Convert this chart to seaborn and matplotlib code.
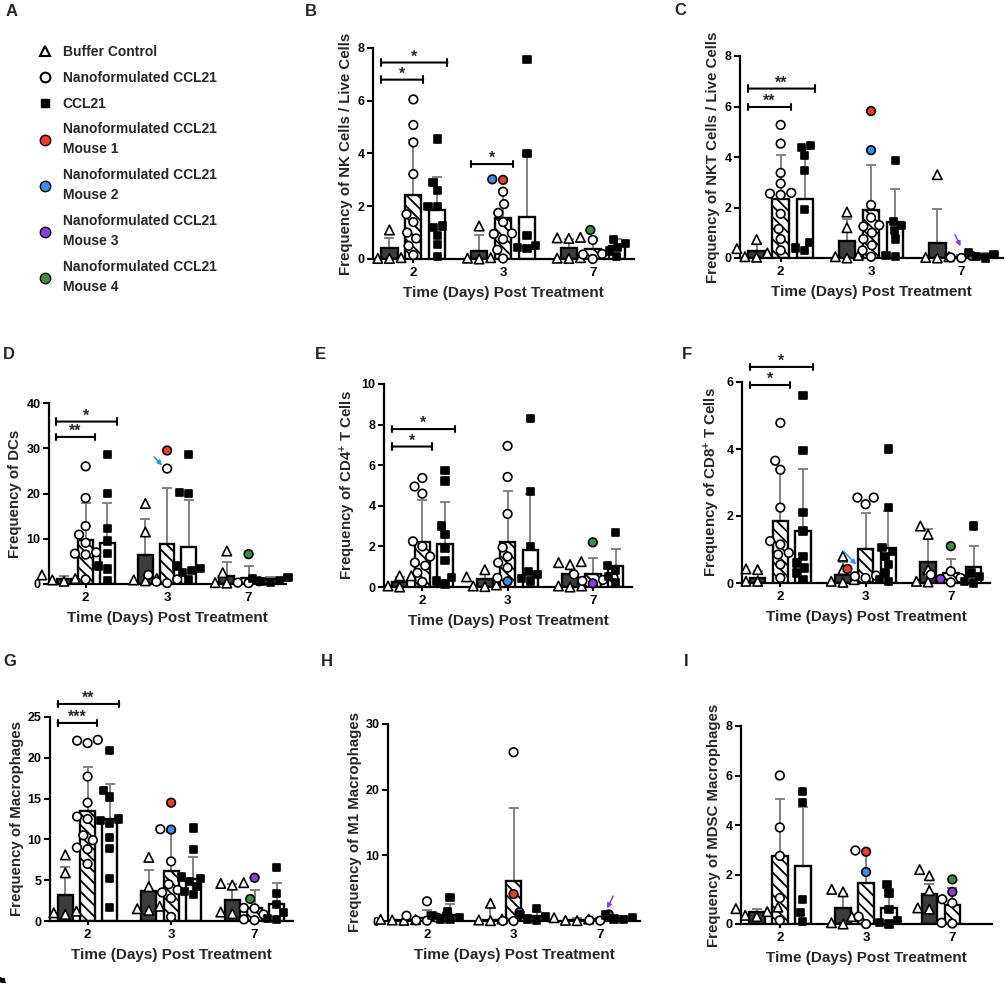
import warnings
import numpy as np
import pandas as pd
import seaborn as sns
import matplotlib.pyplot as plt
from matplotlib.lines import Line2D

warnings.filterwarnings("ignore")

days = ["2", "3", "7"]
groups = ["Buffer Control", "Nanoformulated CCL21", "CCL21"]
mouse_colors = {1: "#ec3b2c", 2: "#3a8ee6", 3: "#8a3fe2", 4: "#3e8c4c"}

# bar means and mean+SD, day-major (2,3,7), group-minor (buffer, nano, ccl21)
# B: NK cells
nk_mean = [0.40, 2.42, 1.85, 0.32, 1.54, 1.58, 0.40, 0.37, 0.49]
nk_top = [0.78, 4.5, 3.1, 0.90, 2.6, 3.95, 0.75, 0.8, 0.75]
nk_buffer = [[1.1, 0.05, 0.02, 0.02], [1.25, 0.05, 0.03, 0.0], [0.82, 0.8, 0.78, 0.05, 0.03, 0.02]]
nk_nano = [[6.05, 5.08, 4.42, 3.22, 1.7, 1.4, 1.0, 0.78, 0.5, 0.15],
           [2.55, 2.08, 1.75, 1.4, 0.97, 0.95, 0.75, 0.35, 0.02], [0.72, 0.19, 0.17, 0.0]]
nk_ccl21 = [[4.55, 2.9, 2.6, 2.0, 2.0, 1.25, 1.2, 0.9, 0.55, 0.1],
            [7.55, 4.0, 0.9, 0.5, 0.45, 0.4], [0.75, 0.6, 0.45, 0.3, 0.1]]
nk_mice = [("3", 3.0, 1), ("3", 3.02, 2), ("7", 1.1, 4)]
nk_sig = [("2", 1, 6.8, "*"), ("2", 2, 7.45, "*"), ("3", 1, 3.6, "*")]

# C: NKT cells
nkt_mean = [0.28, 2.32, 2.33, 0.67, 1.91, 1.43, 0.60, 0.04, 0.10]
nkt_top = [0.6, 4.07, 4.3, 1.53, 3.67, 2.75, 1.95, 0.1, 0.2]
nkt_buffer = [[0.73, 0.37, 0.2, 0.05, 0.03], [1.82, 1.2, 0.1, 0.05, 0.0], [3.3, 0.05, 0.02, 0.0]]
nkt_nano = [[5.27, 4.53, 3.37, 2.95, 2.58, 2.55, 2.5, 1.75, 1.15, 0.75, 0.3],
            [2.1, 1.6, 1.3, 1.25, 1.0, 0.75, 0.5, 0.3, 0.05], [0.02, 0.0]]
nkt_ccl21 = [[4.45, 4.38, 4.05, 3.45, 1.92, 0.6, 0.4, 0.3],
             [3.85, 1.45, 1.3, 1.1, 0.75, 0.1, 0.05], [0.22, 0.15, 0.05, 0.0]]
nkt_mice = [("3", 5.82, 1), ("3", 4.27, 2), ("7", 0.08, 4)]
nkt_sig = [("2", 1, 5.98, "**"), ("2", 2, 6.71, "**")]

# D: DCs
dc_mean = [1.0, 9.8, 9.1, 6.4, 8.8, 8.1, 1.8, 1.3, 1.0]
dc_top = [1.8, 17.9, 17.9, 14.4, 21.3, 18.6, 4.9, 4.0, 1.5]
dc_buffer = [[2.0, 1.2, 0.9, 0.6], [17.8, 11.5, 1.2, 0.9, 0.7], [7.3, 2.5, 0.3, 0.2]]
dc_nano = [[26.0, 19.0, 12.8, 10.9, 9.1, 7.0, 6.7, 6.5, 1.0], [25.5, 2.0, 1.0, 0.5, 0.2], [0.3, 0.2]]
dc_ccl21 = [[28.7, 20.0, 12.2, 9.5, 6.7, 4.0, 3.3, 0.8],
            [28.7, 20.3, 20.0, 4.0, 3.5, 3.0, 2.5, 1.0], [1.5, 1.2, 0.8, 0.5, 0.3]]
dc_mice = [("3", 29.5, 1), ("7", 6.6, 4), ("7", 0.6, 3)]
dc_sig = [("2", 1, 32.5, "**"), ("2", 2, 35.9, "*")]

# E: CD4+ T cells
cd4_mean = [0.25, 2.22, 2.13, 0.41, 2.22, 1.80, 0.62, 0.63, 1.04]
cd4_top = [0.5, 4.28, 4.2, 0.7, 4.73, 4.6, 0.95, 1.43, 1.85]
cd4_buffer = [[0.55, 0.55, 0.05, 0.0], [0.85, 0.5, 0.1, 0.05, 0.02], [1.25, 1.2, 1.1, 0.05, 0.05, 0.0]]
cd4_nano = [[5.37, 4.95, 4.6, 2.25, 2.0, 1.5, 1.2, 1.05, 0.7, 0.25],
            [6.95, 5.42, 3.6, 1.95, 1.5, 1.2, 0.95, 0.45], [0.62, 0.45, 0.35, 0.3]]
cd4_ccl21 = [[5.75, 5.22, 3.0, 2.6, 1.9, 1.3, 0.45, 0.3, 0.15],
             [8.3, 4.7, 2.0, 0.75, 0.6, 0.4, 0.3], [2.7, 1.05, 0.8, 0.5, 0.2]]
cd4_mice = [("3", 0.28, 2), ("7", 2.2, 4), ("7", 0.18, 3)]
cd4_sig = [("2", 1, 6.92, "*"), ("2", 2, 7.78, "*")]

# F: CD8+ T cells
cd8_mean = [0.15, 1.86, 1.55, 0.25, 1.01, 1.05, 0.62, 0.30, 0.48]
cd8_top = [0.35, 3.4, 3.4, 0.63, 2.1, 2.14, 1.6, 0.72, 1.1]
cd8_buffer = [[0.42, 0.4, 0.05, 0.05], [0.8, 0.4, 0.1, 0.05, 0.02], [1.7, 1.45, 0.4, 0.05, 0.03]]
cd8_nano = [[4.78, 3.65, 3.38, 2.25, 1.25, 1.15, 0.9, 0.85, 0.55, 0.15],
            [2.55, 2.55, 2.35, 0.22, 0.2, 0.15], [0.35, 0.25, 0.15, 0.02]]
cd8_ccl21 = [[5.6, 3.95, 2.1, 1.55, 0.8, 0.6, 0.45, 0.3, 0.1],
             [4.0, 2.25, 1.05, 0.95, 0.8, 0.55, 0.3, 0.1, 0.05], [1.7, 0.3, 0.2, 0.05, 0.0]]
cd8_mice = [("3", 0.42, 1), ("7", 1.1, 4), ("7", 0.12, 3)]
cd8_sig = [("2", 1, 5.91, "*"), ("2", 2, 6.45, "*")]

# G: macrophages
mac_mean = [3.23, 13.44, 12.46, 3.64, 6.13, 5.1, 2.53, 1.6, 2.1]
mac_top = [6.62, 18.87, 16.8, 6.2, 10.9, 7.84, 4.5, 3.76, 4.6]
mac_buffer = [[8.1, 5.9, 1.2, 1.0, 0.8], [7.8, 4.2, 1.8, 1.5, 1.3], [4.7, 4.6, 4.4, 1.1, 0.9]]
mac_nano = [[22.2, 22.1, 21.8, 17.7, 14.5, 12.8, 12.5, 10.5, 9.9, 9.0, 8.8, 7.0],
            [11.25, 7.3, 4.5, 3.8, 3.5, 2.8, 0.5], [1.6, 1.55, 0.8, 0.2, 0.1]]
mac_ccl21 = [[20.9, 16.0, 15.2, 12.5, 12.3, 12.0, 10.2, 8.9, 5.2, 1.7],
             [11.4, 8.8, 5.4, 5.2, 4.8, 4.2, 3.6, 3.2], [6.6, 3.4, 2.0, 1.0, 0.3, 0.2]]
mac_mice = [("3", 14.5, 1), ("3", 11.2, 2), ("7", 5.3, 3), ("7", 2.7, 4)]
mac_sig = [("2", 1, 24.27, "***"), ("2", 2, 26.6, "**")]

# H: M1 macrophages
m1_mean = [0.1, 0.5, 0.86, 0.2, 6.1, 0.76, 0.2, 0.25, 0.5]
m1_top = [0.2, 1.6, 2.64, 2.1, 17.2, 1.3, 0.4, 0.5, 0.8]
m1_buffer = [[0.25, 0.2, 0.15, 0.1], [2.7, 0.3, 0.15, 0.05], [0.5, 0.3, 0.1, 0.05]]
m1_nano = [[3.0, 1.1, 0.8, 0.5, 0.1, 0.05], [25.7, 0.0, 0.01], [0.1, 0.05]]
m1_ccl21 = [[3.6, 1.5, 0.8, 0.5, 0.3, 0.2], [1.9, 1.0, 0.6, 0.3, 0.1], [0.9, 0.5, 0.3, 0.2]]
m1_mice = [("3", 4.1, 1), ("3", 1.3, 2), ("7", 1.0, 4)]
m1_sig = []

# I: MDSC macrophages (no CCL21 group on day 7)
mdsc_mean = [0.47, 2.75, 2.34, 0.63, 1.64, 0.64, 1.22, 0.77, np.nan]
mdsc_top = [0.62, 5.05, 4.74, 1.2, 2.9, 1.35, 1.6, 1.45, np.nan]
mdsc_buffer = [[0.68, 0.62, 0.5, 0.35, 0.3], [1.4, 1.3, 0.3, 0.05, 0.0], [2.2, 1.95, 1.35, 0.65, 0.6]]
mdsc_nano = [[6.0, 3.9, 2.75, 1.05, 0.15], [2.97, 0.3, 0.0], [1.0, 0.85, 0.05, 0.02]]
mdsc_ccl21 = [[5.35, 4.9, 1.0, 0.45, 0.1], [1.6, 1.25, 0.6, 0.15, 0.05, 0.0], []]
mdsc_mice = [("3", 2.92, 1), ("3", 2.1, 2), ("7", 1.8, 4), ("7", 1.3, 3)]
mdsc_sig = []

panels = [
    ("B", "Frequency of NK Cells / Live Cells", nk_mean, nk_top, (nk_buffer, nk_nano, nk_ccl21), nk_mice, nk_sig, 8, 2),
    ("C", "Frequency of NKT Cells / Live Cells", nkt_mean, nkt_top, (nkt_buffer, nkt_nano, nkt_ccl21), nkt_mice, nkt_sig, 8, 2),
    ("D", "Frequency of DCs", dc_mean, dc_top, (dc_buffer, dc_nano, dc_ccl21), dc_mice, dc_sig, 40, 10),
    ("E", r"Frequency of CD4$^{+}$ T Cells", cd4_mean, cd4_top, (cd4_buffer, cd4_nano, cd4_ccl21), cd4_mice, cd4_sig, 10, 2),
    ("F", r"Frequency of CD8$^{+}$ T Cells", cd8_mean, cd8_top, (cd8_buffer, cd8_nano, cd8_ccl21), cd8_mice, cd8_sig, 6, 2),
    ("G", "Frequency of Macrophages", mac_mean, mac_top, (mac_buffer, mac_nano, mac_ccl21), mac_mice, mac_sig, 25, 5),
    ("H", "Frequency of M1 Macrophages", m1_mean, m1_top, (m1_buffer, m1_nano, m1_ccl21), m1_mice, m1_sig, 30, 10),
    ("I", "Frequency of MDSC Macrophages", mdsc_mean, mdsc_top, (mdsc_buffer, mdsc_nano, mdsc_ccl21), mdsc_mice, mdsc_sig, 8, 2),
]

# layout in pixels: left, right, top, bottom of each axes; panel letter position
W, H = 1005, 983
axes_px = {"B": (373, 634, 48, 259), "C": (740, 1003, 56, 258), "D": (49, 286, 403, 584),
           "E": (384, 632, 384, 587), "F": (742, 990, 382, 583), "G": (50, 293, 717, 921),
           "H": (388, 640, 724, 921), "I": (741, 992, 726, 924)}
letter_px = {"A": (6, 4), "B": (305, 4), "C": (674, 3), "D": (3, 347), "E": (315, 347),
             "F": (682, 347), "G": (3, 654), "H": (321, 654), "I": (684, 654)}
# arrows pointing at hidden mice: (mouse, tail, head) in data coords
arrows = {"C": (3, (1.93, 0.92), (1.99, 0.46)), "D": (2, (0.84, 28.1), (0.94, 26.2)),
          "F": (2, (0.74, 0.95), (0.89, 0.55)), "H": (3, (2.15, 3.8), (2.08, 1.9))}

sns.set_theme(style="ticks")
plt.rcParams["font.family"] = ["Liberation Sans", "DejaVu Sans"]
plt.rcParams["font.weight"] = "bold"
plt.rcParams["axes.labelweight"] = "bold"
plt.rcParams["mathtext.fontset"] = "custom"
plt.rcParams["mathtext.rm"] = "Liberation Sans:bold"
plt.rcParams["mathtext.it"] = "Liberation Sans:bold"
plt.rcParams["mathtext.bf"] = "Liberation Sans:bold"
plt.rcParams["mathtext.default"] = "rm"
plt.rcParams["hatch.linewidth"] = 1.3
plt.rcParams["hatch.color"] = "black"

bar_face = {groups[0]: "#3c3c3c", groups[1]: "white", groups[2]: "white"}
bar_hatch = {groups[0]: "", groups[1]: "\\\\\\", groups[2]: ""}
pt_face = {groups[0]: "white", groups[1]: "white", groups[2]: "black"}
pt_marker = {groups[0]: "^", groups[1]: "o", groups[2]: "s"}
pt_size = {groups[0]: 6.8, groups[1]: 6.2, groups[2]: 5.2}
offsets = {g: (i - 1) * 0.8 / 3 for i, g in enumerate(groups)}


def draw_panel(ax, ylabel, mean, top, pts, mice, sig, ymax, ystep):
    bars = pd.DataFrame({"day": np.repeat(days, 3), "group": groups * 3,
                         "mean": mean, "top": top}).dropna()
    for g in groups:
        sns.barplot(data=bars[bars.group == g], x="day", y="mean", hue="group",
                    order=days, hue_order=groups, palette=bar_face, dodge=True,
                    width=0.8, gap=0.32, saturation=1, errorbar=None, legend=False,
                    edgecolor="black", linewidth=1.7, hatch=bar_hatch[g], zorder=1, ax=ax)
    for row in bars.itertuples():
        x = days.index(row.day) + offsets[row.group]
        ax.errorbar(x, row.mean, yerr=[[0], [row.top - row.mean]], fmt="none",
                    ecolor="#7a7a7a", elinewidth=1.3, capsize=3.6, capthick=1.3, zorder=0.9)

    rows = []
    for g, per_day in zip(groups, pts):
        for d, vals in zip(days, per_day):
            rows += [(d, g, v, pt_face[g]) for v in vals]
    rows += [(d, groups[1], v, mouse_colors[m]) for d, v, m in mice]
    pdf = pd.DataFrame(rows, columns=["day", "group", "value", "color"])

    for g in groups:
        sub = pdf[pdf.group == g]
        n0 = len(ax.collections)
        sns.swarmplot(data=sub, x="day", y="value", hue="group", order=days, hue_order=groups,
                      palette=pt_face, dodge=True, marker=pt_marker[g], size=pt_size[g],
                      edgecolor="black", linewidth=1.2, legend=False, clip_on=False,
                      zorder=3, ax=ax)
        # give each point its own face colour (mice are coloured)
        for coll in ax.collections[n0:]:
            ys = np.asarray(coll.get_offsets())
            if ys.size == 0:
                continue
            ys = ys[:, 1].tolist()
            for d in days:
                cur = sub[sub.day == d]
                if cur.value.tolist() == ys:
                    coll.set_facecolor(cur.color.tolist())

    for d, gi, y, label in sig:
        x0 = days.index(d) - 0.36
        x1 = days.index(d) + (0.11 if gi == 1 else 0.38)
        ax.annotate("", xy=(x1, y), xytext=(x0, y), annotation_clip=False,
                    arrowprops=dict(arrowstyle="|-|,widthA=0.2,widthB=0.2", lw=1.5,
                                    color="black", shrinkA=0, shrinkB=0))
        ax.annotate(label, xy=((x0 + x1) / 2, y), xytext=(0, -1.5), textcoords="offset points",
                    ha="center", va="bottom", fontsize=11.5, fontweight="bold",
                    annotation_clip=False)

    ax.set_xlim(-0.45, 2.46)
    ax.set_ylim(0, ymax)
    ax.set_yticks(np.arange(0, ymax + 0.01, ystep))
    ax.set_xticks(range(3))
    ax.set_xticklabels(days)
    ax.set_xlabel("Time (Days) Post Treatment", fontsize=11, fontweight="bold", labelpad=5)
    ax.set_ylabel(ylabel, fontsize=10.8, fontweight="bold", labelpad=3)
    sns.despine(ax=ax)
    for s in ("left", "bottom"):
        ax.spines[s].set_linewidth(1.6)
        ax.spines[s].set_color("black")
    ax.tick_params(axis="y", length=4, width=1.5, labelsize=9, pad=2, colors="black")
    ax.tick_params(axis="x", length=3, width=1.5, labelsize=9.5, pad=3, colors="black")
    for t in ax.get_xticklabels() + ax.get_yticklabels():
        t.set_fontweight("bold")


fig = plt.figure(figsize=(W / 100, H / 100), dpi=100)

for key, ylabel, mean, top, pts, mice, sig, ymax, ystep in panels:
    l, r, t, b = axes_px[key]
    ax = fig.add_axes([l / W, 1 - b / H, (r - l) / W, (b - t) / H])
    draw_panel(ax, ylabel, mean, top, pts, mice, sig, ymax, ystep)
    if key in arrows:
        m, tail, head = arrows[key]
        ax.annotate("", xy=head, xytext=tail, annotation_clip=False,
                    arrowprops=dict(arrowstyle="-|>", color=mouse_colors[m], lw=1.1,
                                    mutation_scale=7, shrinkA=0, shrinkB=0))

for key, (x, y) in letter_px.items():
    fig.text(x / W, 1 - y / H, key, fontsize=12, fontweight="bold", va="top", ha="left")

# panel A: legend
handles = [
    Line2D([], [], ls="none", marker="^", mfc="white", mec="black", mew=1.5, ms=7.5),
    Line2D([], [], ls="none", marker="o", mfc="white", mec="black", mew=1.5, ms=7),
    Line2D([], [], ls="none", marker="s", mfc="black", mec="black", mew=1.0, ms=6),
] + [Line2D([], [], ls="none", marker="o", mfc=mouse_colors[m], mec="black", mew=1.0, ms=7.5)
     for m in (1, 2, 3, 4)]
labels = ["Buffer Control", "Nanoformulated CCL21", "CCL21"] + \
         [f"Nanoformulated CCL21\nMouse {m}" for m in (1, 2, 3, 4)]
leg = fig.legend(handles, labels, loc="upper left", bbox_to_anchor=(35 / W, 1 - 45 / H),
                 frameon=False, prop=dict(weight="bold", size=10), handlelength=1.4,
                 handletextpad=0.6, labelspacing=0.85, borderpad=0, borderaxespad=0)
for t in leg.get_texts():
    t.set_linespacing(1.55)

fig.savefig("out.png", dpi=100)
